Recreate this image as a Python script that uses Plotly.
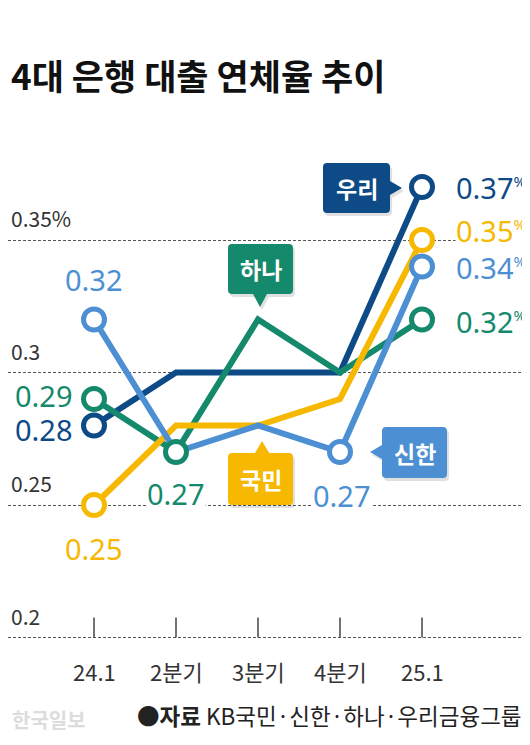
import plotly.graph_objects as go

# page is 530x745, the browser puts the figure 8px in from the top-left
PAGE_W, PAGE_H = 530, 745
OFF = 8
FW, FH = PAGE_W - OFF, PAGE_H - 2 * OFF

# data
quarters = ["24.1", "2분기", "3분기", "4분기", "25.1"]
woori = [0.28, 0.30, 0.30, 0.30, 0.37]
hana = [0.29, 0.27, 0.32, 0.30, 0.32]
kookmin = [0.25, 0.28, 0.28, 0.29, 0.35]
shinhan = [0.32, 0.27, 0.28, 0.27, 0.34]
grid_vals = [0.2, 0.25, 0.3, 0.35]
grid_text = ["0.2", "0.25", "0.3", "0.35%"]

WOORI = "#0d4a86"
HANA = "#14896c"
KOOKMIN = "#f6b800"
SHINHAN = "#4d8fd3"
KR = "Noto Sans CJK KR"
NUM = "Noto Sans"

# page-pixel layout: first quarter at x=94, 82px apart; 0.25 at y=505, 2650px per unit
X0_PX, X_STEP = 94, 82
Y25_PX, PX_PER_UNIT = 505, 2650
LEFT = OFF + 1  # leftmost visible page pixel


def px(x):
    return (x - OFF) / FW


def py(y):
    return 1 - (y - OFF) / FH


x_idx = list(range(len(quarters)))

# name, values, colour, which points get an open circle
series = [
    ("우리", woori, WOORI, [0, 4]),
    ("하나", hana, HANA, [0, 1, 4]),
    ("국민", kookmin, KOOKMIN, [0, 4]),
    ("신한", shinhan, SHINHAN, [0, 3, 4]),
]

fig = go.Figure()

for name, vals, color, marks in series:
    fig.add_trace(go.Scatter(x=x_idx, y=vals, mode="lines", name=name,
                             line=dict(color=color, width=6),
                             hoverinfo="skip", showlegend=False))

for name, vals, color, marks in series:
    fig.add_trace(go.Scatter(x=[x_idx[i] for i in marks], y=[vals[i] for i in marks],
                             mode="markers", name=name,
                             marker=dict(size=21, color="white", line=dict(color=color, width=5)),
                             showlegend=False))

annotations = []

# y labels above the dashed grid lines
for v, t in zip(grid_vals, grid_text):
    annotations.append(dict(x=px(LEFT), xref="paper", y=v, yref="y", text=t, showarrow=False,
                            xanchor="left", yanchor="middle", yshift=22,
                            font=dict(family=KR, size=21, color="#333")))

# x labels + small ticks
for i, q in enumerate(quarters):
    annotations.append(dict(x=i, xref="x", y=grid_vals[0], yref="y", text=q, showarrow=False,
                            xanchor="center", yanchor="middle", yshift=-33,
                            font=dict(family=KR, size=22, color="#333")))

shapes = []
for i in x_idx:
    shapes.append(dict(type="line", xref="x", yref="y", x0=i, x1=i,
                       y0=grid_vals[0], y1=grid_vals[0] + 20 / PX_PER_UNIT,
                       line=dict(color="#444", width=1.5)))

# value labels: series, colour, point, anchor, xshift, yshift, percent sign, white back
labels = [
    (shinhan, SHINHAN, 0, "center", 0, 40, False, False),
    (hana, HANA, 0, "right", -20, 4, False, False),
    (woori, WOORI, 0, "right", -20, -4, False, False),
    (kookmin, KOOKMIN, 0, "center", 0, -43, False, False),
    (hana, HANA, 1, "center", 0, -41, False, True),
    (shinhan, SHINHAN, 3, "center", 2, -43, False, True),
    (hana, HANA, 4, "left", 33, -2, True, False),
    (shinhan, SHINHAN, 4, "left", 33, -1, True, False),
    (kookmin, KOOKMIN, 4, "left", 33, 10, True, True),
    (woori, WOORI, 4, "left", 33, 0, True, False),
]
for vals, color, i, anchor, xs, ys, pct, back in labels:
    txt = f"{vals[i]:.2f}"
    if pct:
        txt += "<sup><span style='font-size:15px'>%</span></sup>"
    annotations.append(dict(x=i, xref="x", y=vals[i], yref="y", text=txt, showarrow=False,
                            xanchor=anchor, yanchor="middle", xshift=xs, yshift=ys,
                            bgcolor="white" if back else "rgba(0,0,0,0)", borderpad=0,
                            font=dict(family=NUM, size=29, color=color)))


def callout_path(x0, y0, x1, y1, side, tip, r=4, half=7):
    tx, ty = tip
    pts = [("M", x0 + r, y0)]
    if side == "top":
        pts += [("L", tx - half, y0), ("L", tx, ty), ("L", tx + half, y0)]
    pts.append(("L", x1 - r, y0))
    pts.append(("Q", x1, y0, x1, y0 + r))
    if side == "right":
        pts += [("L", x1, ty - half), ("L", tx, ty), ("L", x1, ty + half)]
    pts.append(("L", x1, y1 - r))
    pts.append(("Q", x1, y1, x1 - r, y1))
    if side == "bottom":
        pts += [("L", tx + half, y1), ("L", tx, ty), ("L", tx - half, y1)]
    pts.append(("L", x0 + r, y1))
    pts.append(("Q", x0, y1, x0, y1 - r))
    if side == "left":
        pts += [("L", x0, ty + half), ("L", tx, ty), ("L", x0, ty - half)]
    pts.append(("L", x0, y0 + r))
    pts.append(("Q", x0, y0, x0 + r, y0))
    out = []
    for p in pts:
        cmd, coords = p[0], p[1:]
        nums = [f"{px(coords[k]):.5f},{py(coords[k + 1]):.5f}" for k in range(0, len(coords), 2)]
        out.append(cmd + " ".join(nums))
    return " ".join(out) + " Z"


# bank name boxes
boxes = [
    ("우리", WOORI, (323, 163, 390, 213), "right", (402, 188)),
    ("하나", HANA, (228, 244, 293, 294), "bottom", (260, 307)),
    ("국민", KOOKMIN, (228, 453, 293, 505), "top", (262, 441)),
    ("신한", SHINHAN, (382, 427, 447, 478), "left", (370, 452)),
]
for name, color, (bx0, by0, bx1, by1), side, tip in boxes:
    shapes.append(dict(type="path", xref="paper", yref="paper",
                       path=callout_path(bx0 + 2, by0 + 3, bx1 + 2, by1 + 3, side,
                                         (tip[0] + 2, tip[1] + 3)),
                       fillcolor="rgba(0,0,0,0.12)", line=dict(width=0), layer="above"))
    shapes.append(dict(type="path", xref="paper", yref="paper",
                       path=callout_path(bx0, by0, bx1, by1, side, tip),
                       fillcolor=color, line=dict(width=0), layer="above"))
    annotations.append(dict(x=px((bx0 + bx1) / 2), y=py((by0 + by1) / 2), xref="paper", yref="paper",
                            text=f"<b>{name}</b>", showarrow=False, xanchor="center", yanchor="middle",
                            font=dict(family=KR, size=23, color="white")))

# title, source, watermark
annotations.append(dict(x=px(LEFT), y=py(74), xref="paper", yref="paper", text="<b>4대 은행 대출 연체율 추이</b>",
                        showarrow=False, xanchor="left", yanchor="middle",
                        font=dict(family=KR, size=35, color="#111")))
annotations.append(dict(x=px(524), y=py(715), xref="paper", yref="paper",
                        text="<b>●자료</b> KB국민·신한·하나·우리금융그룹",
                        showarrow=False, xanchor="right", yanchor="middle",
                        font=dict(family=KR, size=22.5, color="#222")))
annotations.append(dict(x=px(10), y=py(719), xref="paper", yref="paper", text="<b>한국일보</b>",
                        showarrow=False, xanchor="left", yanchor="middle",
                        font=dict(family=KR, size=20, color="#dcdcdc")))

fig.update_layout(
    width=FW, height=FH,
    margin=dict(l=0, r=0, t=0, b=0),
    paper_bgcolor="white", plot_bgcolor="white",
    xaxis=dict(range=[(OFF - X0_PX) / X_STEP, (PAGE_W - X0_PX) / X_STEP], visible=False, fixedrange=True),
    yaxis=dict(range=[0.25 - (OFF + FH - Y25_PX) / PX_PER_UNIT, 0.25 + (Y25_PX - OFF) / PX_PER_UNIT],
               tickvals=grid_vals, showticklabels=False, zeroline=False,
               showgrid=True, gridcolor="#555", gridwidth=1, griddash="3px,2px", fixedrange=True),
    annotations=annotations,
    shapes=shapes,
    showlegend=False,
)

fig.write_html("out.html")
